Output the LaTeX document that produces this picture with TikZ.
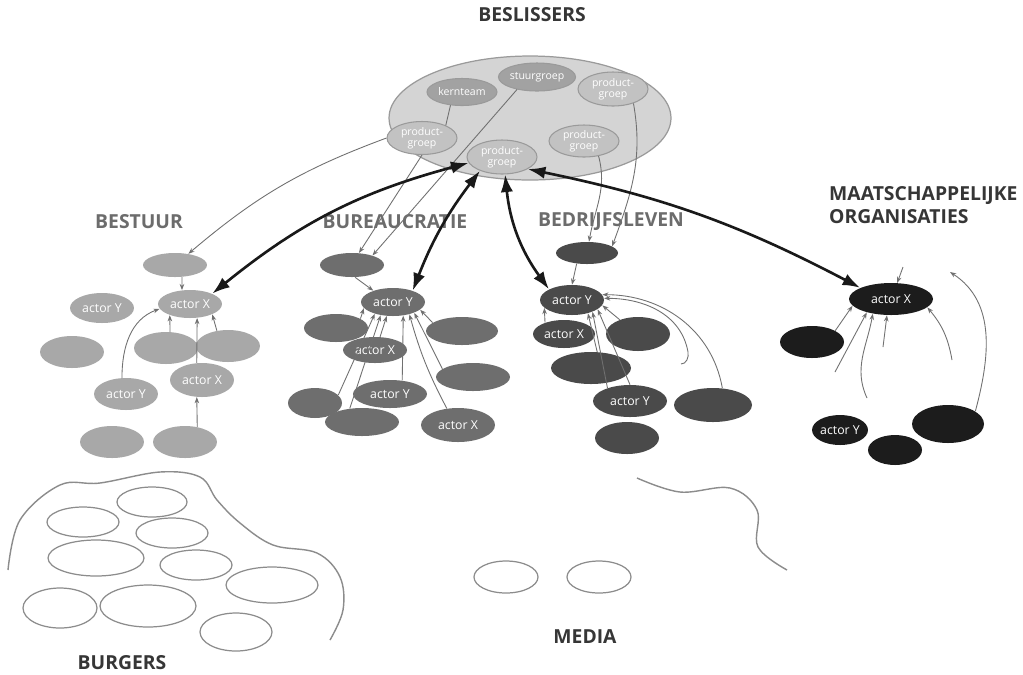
\documentclass[tikz,border=0pt]{standalone}
\usepackage{fontspec}
\setmainfont{Open Sans}
\usetikzlibrary{shapes.geometric, arrows.meta}
\definecolor{besfill}{HTML}{D4D4D4}
\definecolor{besline}{HTML}{9A9A9A}
\definecolor{corefill}{HTML}{A2A2A2}
\definecolor{pgfill}{HTML}{C2C2C2}
\definecolor{bstfill}{HTML}{A8A8A8}
\definecolor{burfill}{HTML}{6E6E6E}
\definecolor{bedfill}{HTML}{4A4A4A}
\definecolor{maafill}{HTML}{1C1C1C}
\definecolor{openline}{HTML}{8C8C8C}
\definecolor{linkgray}{HTML}{707070}
\definecolor{titlegray}{HTML}{363636}
\definecolor{sectorgray}{HTML}{6C6C6C}
\tikzset{
    blob/.style={ellipse, inner sep=0pt, minimum width=1.28cm,
        minimum height=0.6cm, text=white, font=\fontsize{7}{8}\selectfont}
}
\tikzset{
    beslis/.style={blob, fill=pgfill, draw=besline, line width=0.6pt,
        align=center, font=\fontsize{6}{6.5}\selectfont},
    core/.style={beslis, fill=corefill},
    bst/.style={blob, fill=bstfill},
    bur/.style={blob, fill=burfill},
    bed/.style={blob, fill=bedfill},
    maa/.style={blob, fill=maafill},
    open/.style={blob, draw=openline, line width=0.7pt}
}
\tikzset{
    title/.style={font=\bfseries\fontsize{11}{13}\selectfont, text=titlegray},
    sector/.style={title, text=sectorgray},
    link/.style={draw=linkgray, line width=0.5pt,
        -{Stealth[length=3.5pt,width=2.6pt]}},
    wire/.style={draw=linkgray, line width=0.5pt},
    duplex/.style={line width=1.5pt, draw=black!90,
        {Latex[length=10pt,width=7pt]}-{Latex[length=10pt,width=7pt]}},
    rim/.style={draw=openline, line width=0.8pt}
}

\begin{document}
\begin{tikzpicture}[x=0.02cm, y=-0.02cm]
	\useasboundingbox[fill=white] (0,0) rectangle (1023,674);

	% beslissers
	\node[title] (tbes) at (532,15) {BESLISSERS};
	\node[ellipse, fill=besfill, draw=besline, line width=0.7pt,
		minimum width=5.64cm, minimum height=2.48cm] (bes) at (530,118) {};
	\node[core, minimum width=1.4cm, minimum height=0.54cm] (kt) at (462,92) {kernteam};
	\node[core, minimum width=1.44cm, minimum height=0.56cm] (st) at (537,77) {stuurgroep};
	\node[beslis, minimum width=1.4cm, minimum height=0.68cm] (tpg) at (613,89) {product-\\groep};
	\node[beslis, minimum width=1.4cm, minimum height=0.66cm] (lpg) at (422,138) {product-\\groep};
	\node[beslis, minimum width=1.4cm, minimum height=0.64cm] (rpg) at (584,141) {product-\\groep};
	\node[beslis, minimum width=1.4cm, minimum height=0.68cm] (pc) at (502,157) {product-\\groep};

	% bestuur
	\node[sector] (tbst) at (139,222) {BESTUUR};
	\node[bst, minimum height=0.48cm] (bt) at (175,265) {};
	\node[bst, minimum height=0.56cm] (bx) at (190,304) {actor X};
	\node[bst] (by) at (102,308) {actor Y};
	\node[bst, minimum height=0.64cm] (bl) at (72,352) {};
	\node[bst, minimum height=0.64cm] (bm1) at (166,348) {};
	\node[bst, minimum height=0.64cm] (bm2) at (228,346) {};
	\node[bst, minimum height=0.68cm] (bxl) at (202,380) {actor X};
	\node[bst, minimum height=0.64cm] (bya) at (126,394) {actor Y};
	\node[bst, minimum height=0.64cm] (bbl) at (112,442) {};
	\node[bst, minimum height=0.64cm] (bbr) at (185,442) {};

	% bureaucratie
	\node[sector] (tbur) at (395,222) {BUREAUCRATIE};
	\node[bur, minimum height=0.48cm] (rt) at (352,265) {};
	\node[bur, minimum height=0.56cm] (ry) at (393,302) {actor Y};
	\node[bur, minimum height=0.56cm] (rl1) at (336,328) {};
	\node[bur, minimum width=1.44cm, minimum height=0.56cm] (rr1) at (462,331) {};
	\node[bur, minimum height=0.52cm] (rx) at (375,350) {actor X};
	\node[bur, minimum width=1.48cm, minimum height=0.56cm] (rr2) at (473,377) {};
	\node[bur, minimum width=1.48cm, minimum height=0.56cm] (ryl) at (390,394) {actor Y};
	\node[bur, minimum width=1.08cm] (rl2) at (315,403) {};
	\node[bur, minimum width=1.48cm, minimum height=0.56cm] (rbm) at (362,422) {};
	\node[bur, minimum width=1.48cm, minimum height=0.68cm] (rxl) at (458,425) {actor X};

	% bedrijfsleven
	\node[sector] (tbed) at (611,222) {BEDRIJFSLEVEN};
	\node[bed, minimum width=1.24cm, minimum height=0.44cm] (et) at (587,253) {};
	\node[bed] (ey) at (572,300) {actor Y};
	\node[bed, minimum width=1.24cm, minimum height=0.56cm] (ex) at (564,334) {actor X};
	\node[bed, minimum height=0.68cm] (er1) at (638,334) {};
	\node[bed, minimum width=1.6cm, minimum height=0.64cm] (em) at (591,368) {};
	\node[bed, minimum width=1.48cm, minimum height=0.64cm] (eyl) at (630,401) {actor Y};
	\node[bed, minimum width=1.56cm, minimum height=0.68cm] (er2) at (713,405) {};
	\node[bed, minimum height=0.64cm] (eb) at (627,438) {};

	% maatschappelijke organisaties
	\node[title, align=left, anchor=west] (tmaa) at (823,205)
		{MAATSCHAPPELIJKE\\ORGANISATIES};
	\node[maa, minimum width=1.68cm, minimum height=0.64cm] (mx) at (891,299) {actor X};
	\node[maa, minimum height=0.64cm] (ml) at (812,342) {};
	\node[maa, minimum width=1.08cm] (my) at (840,430) {actor Y};
	\node[maa, minimum width=1.08cm] (mb) at (895,450) {};
	\node[maa, minimum width=1.44cm, minimum height=0.76cm] (mbg) at (948,424) {};
	\coordinate (mt) at (903,267);
	\coordinate (m1) at (835,372);
	\coordinate (m2) at (867,398);
	\coordinate (m3) at (883,347);
	\coordinate (m4) at (952,360);
	\coordinate (mtop) at (950,272);

	% burgers
	\node[title] (tbur2) at (122,663) {BURGERS};
	\node[open, minimum width=1.4cm] (c1) at (152,502) {};
	\node[open, minimum width=1.44cm] (c2) at (83,522) {};
	\node[open, minimum width=1.44cm] (c3) at (172,533) {};
	\node[open, minimum width=1.92cm, minimum height=0.72cm] (c4) at (96,558) {};
	\node[open, minimum width=1.44cm] (c5) at (196,565) {};
	\node[open, minimum width=1.84cm, minimum height=0.72cm] (c6) at (272,585) {};
	\node[open, minimum width=1.48cm, minimum height=0.8cm] (c7) at (60,608) {};
	\node[open, minimum width=1.92cm, minimum height=0.84cm] (c8) at (148,606) {};
	\node[open, minimum width=1.44cm, minimum height=0.76cm] (c9) at (236,632) {};
	\draw[rim] plot[smooth, tension=0.6] coordinates {(8,570) (20,520) (60,485)
		(100,483) (160,472) (200,477) (217,500) (240,523) (273,545) (317,553)
		(340,577) (343,610) (330,640)};

	% media
	\node[title] (tmed) at (585,637) {MEDIA};
	\node[open, minimum height=0.64cm] (md1) at (506,577) {};
	\node[open, minimum height=0.64cm] (md2) at (599,577) {};
	\draw[rim] plot[smooth, tension=0.6] coordinates {(637,478) (680,492)
		(730,488) (757,510) (758,547) (787,570)};

	% beslissers naar de sectoren
	\draw[wire] (kt.229) -- (lpg.28);
	\draw[link] (lpg.180) to[bend right=10] (bt.40);
	\draw[link] (lpg.south) -- (rt.60);
	\draw[link] (st.212) -- (rt.25);
	\draw[link] (rpg.314) to[out=-75, in=80] (et.80);
	\draw[link] (tpg.325) to[out=-80, in=70] (et.15);

	\draw[duplex] (pc.190) to[bend right=12] (bx.25);
	\draw[duplex] (pc.212) to[bend right=8] (ry.30);
	\draw[duplex] (pc.280) to[bend right=15] (ey.155);
	\draw[duplex] (pc.335) to[bend left=8] (mx.160);

	% bestuur
	\draw[link] (bt.300) -- (bx.120);
	\draw[link] (bya.104) to[out=90, in=200] (bx.189);
	\draw[link] (bm1.76) -- (bx.209);
	\draw[link] (bxl.107) -- (bx.297);
	\draw[link] (bm2.126) -- (bx.335);
	\draw[link] (bbr.51) -- (bxl.253);

	% bureaucratie
	\draw[link] (rt.284) -- (ry.150);
	\draw[link] (rl1.21) -- (ry.192);
	\draw[link] (rr1.164) -- (ry.344);
	\draw[link] (rl2.19) -- (ry.213);
	\draw[link] (rbm.132) -- (ry.227);
	\draw[link] (rx.69) -- (ry.246);
	\draw[link] (ryl.48) -- (ry.307);
	\draw[link] (rxl.124) to[bend left=6] (ry.323);
	\draw[link] (rr2.165) -- (ry.333);

	% bedrijfsleven
	\coordinate (hk) at (681,364);
	\coordinate (hk2) at (688,352);
	\draw[link] (et.226) -- (ey.north);
	\draw[link] (ex.149) -- (ey.196);
	\draw[link] (er1.142) -- (ey.350);
	\draw[link] (em.69) -- (ey.320);
	\draw[link] (eyl.150) -- (ey.330);
	\draw[link] (eyl.north) -- (ey.340);
	\draw[link] (hk) to[out=0, in=-80] (hk2) to[out=100, in=0] (ey.3);
	\draw[link] (er2.61) to[out=100, in=0] (ey.10);

	% maatschappelijke organisaties
	\draw[link] (mt) -- (mx.69);
	\draw[link] (ml.26) -- (mx.190);
	\draw[link] (m1) -- (mx.209);
	\draw[link] (m2) to[out=115, in=260] (mx.219);
	\draw[link] (m3) -- (mx.256);
	\draw[link] (m4) to[out=100, in=-50] (mx.347);
	\draw[link] (mbg.25) to[out=75, in=-33] (mtop);
\end{tikzpicture}
\end{document}
